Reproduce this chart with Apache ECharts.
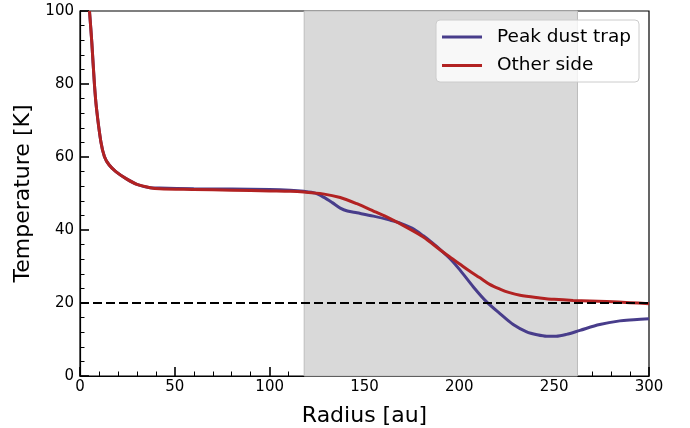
<!DOCTYPE html>
<html><head><meta charset="utf-8">
<script src="https://cdn.jsdelivr.net/npm/echarts@6/dist/echarts.min.js"></script>
<style>html,body{margin:0;padding:0;background:#fff}#c{width:690px;height:428px}</style>
</head><body><div id="c"></div>
<script>
const peakR = [5.0, 6.2, 7.6, 8.7, 11, 12.9, 15.4, 18.9, 24.5, 30, 37, 42, 60, 80, 100, 110.8, 118, 124, 128.4, 133, 137.2, 141, 146, 154.7, 163.5, 168.8, 175, 181, 185, 189.8, 195, 200.4, 207.4, 214.4, 221.4, 228.4, 235.5, 241, 246, 251, 256.5, 263.6, 274, 284.6, 292, 300];
const peakT = [100, 91.6, 80, 73.3, 64.2, 60.1, 57.8, 56.0, 54.0, 52.5, 51.6, 51.5, 51.3, 51.2, 51.1, 50.9, 50.6, 50.1, 49.0, 47.5, 46.0, 45.2, 44.7, 43.8, 42.7, 41.9, 40.5, 38.4, 36.8, 34.7, 32.2, 29.0, 24.4, 20.3, 17.1, 14.1, 12.1, 11.3, 10.9, 10.9, 11.4, 12.5, 14.1, 15.1, 15.4, 15.7];
const otherR = [5.0, 6.2, 7.6, 8.7, 11, 12.9, 15.4, 18.9, 24.5, 30, 37, 42, 60, 80, 100, 110.8, 118, 128, 137.2, 146, 154.7, 163.5, 172, 181, 189.8, 195, 200.4, 205, 210.9, 216, 221.4, 226, 232, 242.5, 250, 260, 277.6, 290, 300];
const otherT = [100, 91.6, 80, 73.3, 64.2, 60.1, 57.8, 56.0, 54.0, 52.5, 51.6, 51.3, 51.1, 50.9, 50.7, 50.6, 50.4, 49.9, 48.9, 47.2, 45.2, 43.1, 40.8, 38.1, 34.6, 32.6, 30.6, 28.9, 26.9, 25.1, 23.8, 22.9, 22.1, 21.4, 21.0, 20.7, 20.4, 20.1, 19.8];
const shadeRange = [118.2, 262.3];
const refTemp = 20;
const seriesNames = ['Peak dust trap', 'Other side'];

const FONT = 'DejaVu Sans';
const chart = echarts.init(document.getElementById('c'), null, {renderer: 'canvas'});
const zip = (a, b) => a.map((v, i) => [v, b[i]]);
chart.setOption({
  animation: false,
  grid: {left: 80, right: 41, top: 11, bottom: 52, outerBoundsMode: 'none', containLabel: false,
    show: true, borderColor: '#000', borderWidth: 1.2, backgroundColor: 'transparent'},
  legend: {
    data: seriesNames, top: 20, right: 51, orient: 'vertical', itemGap: 9.5,
    itemWidth: 40, itemHeight: 3, icon: 'rect',
    textStyle: {fontFamily: FONT, fontSize: 18.5, color: '#000', padding: [0, 0, 0, 10]},
    backgroundColor: 'rgba(255,255,255,0.8)', borderColor: '#cccccc', borderWidth: 1, borderRadius: 4,
    padding: [7.5, 8, 7, 6]
  },
  xAxis: {
    type: 'value', min: 0, max: 300, interval: 50,
    name: 'Radius [au]', nameLocation: 'middle', nameGap: 29,
    nameTextStyle: {fontFamily: FONT, fontSize: 22, color: '#000'},
    axisLine: {show: true, lineStyle: {color: '#000', width: 1.2}},
    axisTick: {show: true, inside: true, length: 9, lineStyle: {color: '#000', width: 1.6}},
    minorTick: {show: true, splitNumber: 5, length: 4.5, lineStyle: {color: '#000', width: 1}},
    axisLabel: {fontFamily: FONT, fontSize: 15, color: '#000', margin: 4},
    splitLine: {show: false}
  },
  yAxis: {
    type: 'value', min: 0, max: 100, interval: 20,
    name: 'Temperature [K]', nameLocation: 'middle', nameGap: 40,
    nameTextStyle: {fontFamily: FONT, fontSize: 22, color: '#000'},
    axisLine: {show: true, lineStyle: {color: '#000', width: 1.2}},
    axisTick: {show: true, inside: true, length: 9, lineStyle: {color: '#000', width: 1.6}},
    minorTick: {show: true, splitNumber: 5, length: 4.5, lineStyle: {color: '#000', width: 1}},
    axisLabel: {fontFamily: FONT, fontSize: 15, color: '#000', margin: 6},
    splitLine: {show: false}
  },
  series: [
    {
      name: seriesNames[0], type: 'line', data: zip(peakR, peakT), smooth: 0.3, showSymbol: false,
      lineStyle: {color: '#483d8b', width: 3}, itemStyle: {color: '#483d8b'}, z: 3,
      markArea: {silent: true, itemStyle: {color: '#d9d9d9', borderColor: '#bdbdbd', borderWidth: 1},
        data: [[{xAxis: shadeRange[0]}, {xAxis: shadeRange[1]}]], z: 1},
      markLine: {silent: true, symbol: 'none', label: {show: false},
        lineStyle: {color: '#000', type: [9, 4], width: 2}, data: [{yAxis: refTemp}]}
    },
    {
      name: seriesNames[1], type: 'line', data: zip(otherR, otherT), smooth: 0.3, showSymbol: false,
      lineStyle: {color: '#b22222', width: 3}, itemStyle: {color: '#b22222'}, z: 4
    }
  ]
});
</script></body></html>
